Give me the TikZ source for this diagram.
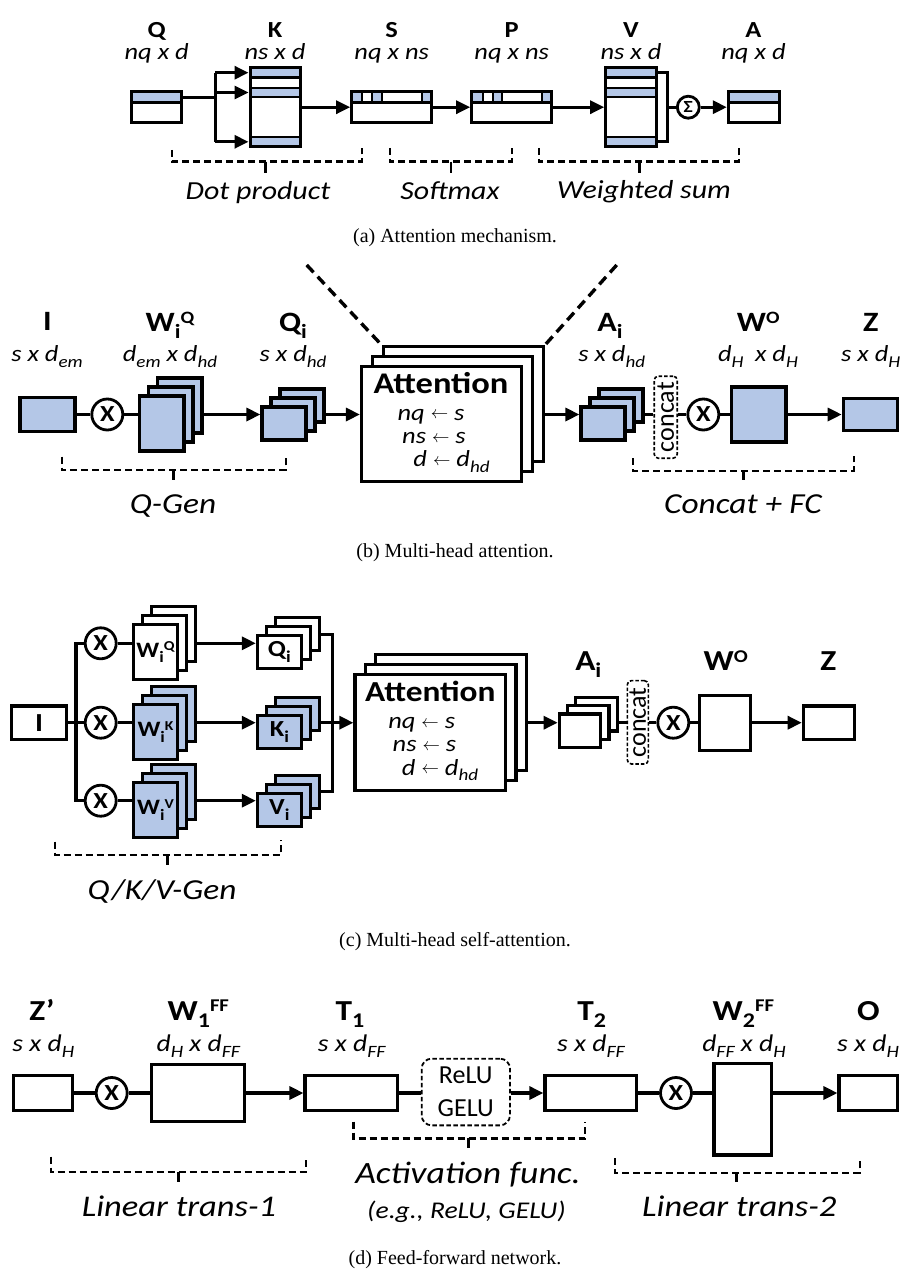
\documentclass[tikz,border=0pt]{standalone}
\usepackage{fontspec}
\usepackage{graphicx}
\setmainfont{Carlito}[BoldFeatures={FakeStretch=1.15},ItalicFeatures={FakeStretch=1.15}]
\newfontfamily\capfont{Liberation Serif}
\usetikzlibrary{arrows.meta}
\definecolor{lb}{RGB}{180,199,231}
\newcommand\fs[1]{\fontsize{#1}{#1}\selectfont}
\newcommand\lo[1]{\raisebox{-0.25em}{\scalebox{0.72}{#1}}}
\newcommand\hi[1]{\raisebox{0.3em}{\scalebox{0.62}{#1}}}
\newcommand\la{\raisebox{0.05em}{\scalebox{0.7}{$\leftarrow$}}}
\newcommand\stk[8]{%
 \node[bx,fill=#7,minimum width=#5pt,minimum height=#6pt] (#13) at ({#2+2*#4},{#3-2*#4}) {};
 \node[bx,fill=#7,minimum width=#5pt,minimum height=#6pt] (#12) at ({#2+#4},{#3-#4}) {};
 \node[bx,fill=#7,minimum width=#5pt,minimum height=#6pt] (#11) at (#2,#3) {#8};}
\tikzset{
 bx/.style={draw,line width=3.2pt,inner sep=0pt,rectangle},
 lnw/.style={line width=3.2pt},
 thin/.style={line width=2.6pt},
 arr/.style={line width=3.2pt,-{Triangle[length=14pt,width=13pt]}},
 mul/.style={draw,circle,fill=white,line width=2.8pt,minimum size=31pt,inner sep=0pt,font=\bfseries\fs{23}},
 brc/.style={line width=2.4pt,dash pattern=on 7pt off 4pt},
 tk/.style={line width=2.6pt},
 diag/.style={line width=3.4pt,dash pattern=on 10pt off 6pt},
 cat/.style={draw,fill=white,line width=1.6pt,dash pattern=on 3.5pt off 2pt,rounded corners=4pt,inner sep=0pt},
 ttl/.style={anchor=base,inner sep=0pt,font=\bfseries\fs{#1}},
 dm/.style={anchor=base,inner sep=0pt,font=\itshape\fs{#1}},
 capt/.style={anchor=base,inner sep=0pt,font=\capfont\fs{20}},
}
\begin{document}
\begin{tikzpicture}[x=1pt,y=-1pt]
\fill[white] (0,0) rectangle (909,1273);
\useasboundingbox (0,0) rectangle (909,1273);

%%%%%%%%%%%%%%%% (a)
% Q
\fill[lb] (131.7,91.7) rectangle (181.7,102.7);
\draw[thin] (131.7,102.7) -- (181.7,102.7);
\node[bx,line width=3pt,minimum width=50pt,minimum height=31pt] (aQ) at (156.7,107.2) {};
% K
\fill[lb] (250,67.7) rectangle (300,77.7);
\fill[lb] (250,88) rectangle (300,97);
\fill[lb] (250,137) rectangle (300,146.7);
\foreach \yy in {77.7,88,97,137} \draw[thin] (250,\yy) -- (300,\yy);
\node[bx,line width=3pt,minimum width=50pt,minimum height=79pt] (aK) at (275,107.2) {};
% S
\fill[lb] (351.7,91.7) rectangle (362,102.7);
\fill[lb] (372,91.7) rectangle (382,102.7);
\fill[lb] (422,91.7) rectangle (431.7,102.7);
\draw[thin] (351.7,102.7) -- (431.7,102.7);
\foreach \xx in {362,372,382,422} \draw[thin] (\xx,91.7) -- (\xx,102.7);
\node[bx,line width=3pt,minimum width=80pt,minimum height=31pt] (aS) at (391.7,107.2) {};
% P
\fill[lb] (471.7,91.7) rectangle (483,102.7);
\fill[lb] (493,91.7) rectangle (502,102.7);
\fill[lb] (542,91.7) rectangle (551.7,102.7);
\draw[thin] (471.7,102.7) -- (551.7,102.7);
\foreach \xx in {483,493,502,542} \draw[thin] (\xx,91.7) -- (\xx,102.7);
\node[bx,line width=3pt,minimum width=80pt,minimum height=31pt] (aP) at (511.7,107.2) {};
% V
\fill[lb] (605.7,67.7) rectangle (656,77.7);
\fill[lb] (605.7,88) rectangle (656,97);
\fill[lb] (605.7,137) rectangle (656,146.7);
\foreach \yy in {77.7,88,97,137} \draw[thin] (605.7,\yy) -- (656,\yy);
\node[bx,line width=3pt,minimum width=50.3pt,minimum height=79pt] (aV) at (630.85,107.2) {};
% A
\fill[lb] (728.3,91.7) rectangle (779.3,102.7);
\draw[thin] (728.3,102.7) -- (779.3,102.7);
\node[bx,line width=3pt,minimum width=51pt,minimum height=31pt] (aA) at (753.8,107.2) {};
\node[draw,circle,line width=2.8pt,minimum size=22pt,inner sep=0pt,font=\bfseries\fs{17}] (aSig) at (688.3,107.2) {Σ};
% connectors
\coordinate (aT) at (215,98);
\coordinate (aT1) at (215,72.7);
\coordinate (aT2) at (215,92.5);
\coordinate (aT3) at (215,141.8);
\draw[lnw,line width=3pt] (aQ.east |- aT) -- (aT);
\draw[lnw,line width=3pt] (aT1) -- (aT3);
\foreach \c in {aT1,aT2,aT3} \draw[arr,line width=3pt] (\c) -- (\c -| aK.west);
\draw[arr,line width=3pt] (aK) -- (aS);
\draw[arr,line width=3pt] (aS) -- (aP);
\draw[arr,line width=3pt] (aP) -- (aV);
\coordinate (aB1) at (667.7,72.7);
\coordinate (aB2) at (667.7,141.8);
\draw[lnw,line width=3pt] (aB1 -| aV.east) -- (aB1) -- (aB2) -- (aB2 -| aV.east);
\draw[lnw,line width=3pt] (aV.east -| aB1) -- (aSig);
\draw[arr,line width=3pt] (aSig) -- (aA);
% labels
\node[ttl=23] (laQ) at (156.7,37.5) {Q};
\node[dm=23] (daQ) at (156.7,60) {nq x d};
\node[ttl=23] (laK) at (275,37.5) {K};
\node[dm=23] (daK) at (275,60) {ns x d};
\node[ttl=23] (laS) at (391.7,37.5) {S};
\node[dm=23] (daS) at (391.7,60) {nq x ns};
\node[ttl=23] (laP) at (511.7,37.5) {P};
\node[dm=23] (daP) at (511.7,60) {nq x ns};
\node[ttl=23] (laV) at (631,37.5) {V};
\node[dm=23] (daV) at (631,60) {ns x d};
\node[ttl=23] (laA) at (753.5,37.5) {A};
\node[dm=23] (daA) at (753.5,60) {nq x d};
% braces
\draw[brc] (171.7,150) -- (171.7,161.7) -- (361.7,161.7) -- (361.7,148);
\draw[tk] (265.7,161.7) -- (265.7,173);
\node[dm=26] (gaDot) at (258,200) {Dot product};
\draw[brc] (390,148) -- (390,161.7) -- (511.7,161.7) -- (511.7,148);
\draw[tk] (451,161.7) -- (451,173);
\node[dm=26] (gaSm) at (450,200) {Softmax};
\draw[brc] (539,148) -- (539,161.7) -- (739,161.7) -- (739,148);
\draw[tk] (639.3,161.7) -- (639.3,173);
\node[dm=26] (gaWs) at (644,199) {Weighted sum};
\node[capt] (capA) at (455,243) {(a) Attention mechanism.};

%%%%%%%%%%%%%%%% (b)
\node[bx,fill=lb,minimum width=55pt,minimum height=33.3pt] (bI) at (47.5,414.5) {};
\node[mul] (bx1) at (107.3,414.5) {X};
\stk{bW}{161.7}{423.5}{9}{44.5}{55}{lb}{}
\stk{bQ}{284}{423.5}{9}{44}{33}{lb}{}
\node[bx,fill=white,minimum width=160pt,minimum height=115pt] (bAt3) at (463.3,404.2) {};
\node[bx,fill=white,minimum width=160pt,minimum height=115pt] (bAt2) at (452.5,414.2) {};
\node[bx,fill=white,minimum width=160pt,minimum height=115pt] (bAt1) at (441.5,424.2) {};
\node[anchor=base,inner sep=0pt,font=\bfseries\fs{30}] (bAtt) at (441,393.3) {Attention};
\node[dm=23] (bL1) at (431,420) {nq \la{} s};
\node[dm=23] (bL2) at (434,443.3) {ns \la{} s};
\node[dm=23] (bL3) at (451.5,466.6) {d \la{} d\lo{hd}};
\stk{bA}{603}{423.5}{9}{44}{33}{lb}{}
\node[cat,minimum width=23pt,minimum height=82pt] (bcat) at (665.7,417.2) {\rotatebox{90}{\fs{26}concat}};
\node[mul] (bx2) at (703.3,414.5) {X};
\node[bx,fill=lb,minimum width=54.3pt,minimum height=55pt] (bWO) at (758.8,414.5) {};
\node[bx,fill=lb,minimum width=54.4pt,minimum height=32.7pt] (bZ) at (870.5,414.5) {};
% connectors
\draw[lnw] (bI) -- (bx1);
\draw[lnw] (bx1) -- (bx1 -| bW1.west);
\draw[arr] (bW2 -| bW3.east) -- (bW2 -| bQ1.west);
\draw[arr] (bQ2 -| bQ3.east) -- (bQ2 -| bAt1.west);
\draw[arr] (bQ2 -| bAt3.east) -- (bQ2 -| bA1.west);
\draw[lnw] (bA2 -| bA3.east) -- (bA2 -| bcat.west);
\draw[lnw] (bA2 -| bcat.east) -- (bx2);
\draw[lnw] (bx2) -- (bWO);
\draw[arr] (bWO) -- (bZ);
\coordinate (bdl) at (306.7,265);
\coordinate (bdr) at (616.7,265);
\draw[diag] (bdl) -- (bAt3.north west);
\draw[diag] (bdr) -- (bAt3.north east);
% labels
\node[ttl=28] (lbI) at (47.5,330.7) {I};
\node[dm=23] (dbI) at (47,361.5) {s x d\lo{em}};
\node[ttl=28] (lbW) at (170,331.7) {W\lo{i}\hi{Q}};
\node[dm=23] (dbW) at (170,361.5) {d\lo{em} x d\lo{hd}};
\node[ttl=28] (lbQ) at (293,331.7) {Q\lo{i}};
\node[dm=23] (dbQ) at (293,361.5) {s x d\lo{hd}};
\node[ttl=28] (lbA) at (610,331.7) {A\lo{i}};
\node[dm=23] (dbA) at (611.7,361.5) {s x d\lo{hd}};
\node[ttl=28] (lbWO) at (758.3,331.7) {W\hi{O}};
\node[dm=23] (dbWO) at (758,361.5) {d\lo{H}\enspace x d\lo{H}};
\node[ttl=28] (lbZ) at (870.7,331.7) {Z};
\node[dm=23] (dbZ) at (870.7,361.5) {s x d\lo{H}};
% braces
\draw[brc] (61.7,456.7) -- (61.7,470) -- (285.7,470) -- (285.7,456);
\draw[tk] (173.3,470) -- (173.3,480);
\node[dm=29] (gbQ) at (173,513.3) {Q-Gen};
\draw[brc] (632.7,458.3) -- (632.7,470.7) -- (854,470.7) -- (854,456);
\draw[tk] (743.3,470.7) -- (743.3,480);
\node[dm=29] (gbC) at (743,513.3) {Concat + FC};
\node[capt] (capB) at (455,557) {(b) Multi-head attention.};

%%%%%%%%%%%%%%%% (c)
\node[bx,minimum width=55pt,minimum height=33.3pt,font=\bfseries\fs{26}] (cI) at (39.2,722.7) {I};
\node[mul] (cxq) at (100.7,643.3) {X};
\node[mul] (cxk) at (100.7,722.7) {X};
\node[mul] (cxv) at (100.7,800.7) {X};
\coordinate (ctq) at (76,643.3);
\coordinate (ctv) at (76,800.7);
\draw[lnw] (cxq.west) -- (ctq) -- (ctv) -- (cxv.west);
\draw[lnw] (cI) -- (cxk);
\stk{cWq}{155.5}{652.3}{9}{44.4}{55}{white}{\bfseries\fs{22}W\lo{i}\hi{Q}}
\stk{cWk}{155.5}{731.7}{9}{44.4}{55}{lb}{\bfseries\fs{22}W\lo{i}\hi{K}}
\stk{cWv}{155.5}{809.7}{9}{44.4}{55}{lb}{\bfseries\fs{22}W\lo{i}\hi{V}}
\stk{cQq}{279.4}{652.3}{9}{44}{33}{white}{\bfseries\fs{23}Q\lo{i}}
\stk{cQk}{279.4}{731.7}{9}{44}{33}{lb}{\bfseries\fs{23}K\lo{i}}
\stk{cQv}{279.4}{809.7}{9}{44}{33}{lb}{\bfseries\fs{23}V\lo{i}}
\foreach \r in {q,k,v}{
 \draw[lnw] (cx\r) -- (cx\r -| cW\r1.west);
 \draw[arr] (cW\r2 -| cW\r3.east) -- (cW\r2 -| cQ\r1.west);
}
\node[bx,fill=white,minimum width=150.7pt,minimum height=116.4pt] (cAt3) at (451,712.3) {};
\node[bx,fill=white,minimum width=150.7pt,minimum height=116.4pt] (cAt2) at (440.7,722.3) {};
\node[bx,fill=white,minimum width=150.7pt,minimum height=116.4pt] (cAt1) at (430.3,732.5) {};
\node[anchor=base,inner sep=0pt,font=\bfseries\fs{29}] (cAtt) at (430.3,701.7) {Attention};
\node[dm=23] (cL1) at (421.7,728.3) {nq \la{} s};
\node[dm=23] (cL2) at (424.5,751.7) {ns \la{} s};
\node[dm=23] (cL3) at (440,775) {d \la{} d\lo{hd}};
\coordinate (crq) at (332.7,634.3);
\coordinate (crv) at (332.7,791.7);
\draw[lnw] (cQq3.east) -- (crq) -- (crv) -- (cQv3.east);
\draw[arr] (cQk3.east |- cxk) -- (cxk -| cAt1.west);
\stk{cA}{580}{730.8}{8.3}{41.5}{33.7}{white}{}
\node[cat,minimum width=21pt,minimum height=83.3pt] (ccat) at (637.8,722.3) {\rotatebox{90}{\fs{26}concat}};
\node[mul] (cx2) at (673.3,722.7) {X};
\node[bx,minimum width=51.4pt,minimum height=55pt] (cWO) at (725,722.7) {};
\node[bx,minimum width=51pt,minimum height=33.3pt] (cZ) at (828.8,722.7) {};
\draw[arr] (cxk -| cAt3.east) -- (cxk -| cA1.west);
\draw[lnw] (cxk -| cA3.east) -- (cxk -| ccat.west);
\draw[lnw] (cxk -| ccat.east) -- (cx2);
\draw[lnw] (cx2) -- (cWO);
\draw[arr] (cWO) -- (cZ);
\node[ttl=29] (lcA) at (588.3,670.7) {A\lo{i}};
\node[ttl=29] (lcWO) at (725.7,670.7) {W\hi{O}};
\node[ttl=29] (lcZ) at (828.3,670.7) {Z};
\draw[brc] (55,841.7) -- (55,855) -- (281,855) -- (281,840);
\draw[tk] (167.5,855) -- (167.5,865);
\node[dm=29] (gcQ) at (162,899) {Q/K/V-Gen};
\node[capt] (capC) at (455,946) {(c) Multi-head self-attention.};

%%%%%%%%%%%%%%%% (d)
\node[bx,minimum width=59.4pt,minimum height=35.7pt] (dZ) at (43,1093) {};
\node[mul] (dx1) at (111.7,1093) {X};
\node[bx,minimum width=92.6pt,minimum height=57.7pt] (dW1) at (198,1093) {};
\node[bx,minimum width=92.3pt,minimum height=35.7pt] (dT1) at (351.2,1093) {};
\node[draw,line width=1.8pt,dash pattern=on 4.5pt off 2.5pt,rounded corners=10pt,minimum width=88.3pt,minimum height=66.7pt,inner sep=0pt,align=center,font=\fontsize{26}{33}\selectfont] (dAct) at (465.8,1092) {ReLU\\GELU};
\node[bx,minimum width=91.7pt,minimum height=35pt] (dT2) at (590.8,1093) {};
\node[mul] (dx2) at (676,1093) {X};
\node[bx,minimum width=57.7pt,minimum height=91.7pt] (dW2) at (742.8,1109.2) {};
\node[bx,minimum width=58.3pt,minimum height=35.7pt] (dO) at (868.2,1093) {};
\draw[lnw] (dZ) -- (dx1);
\draw[lnw] (dx1) -- (dW1);
\draw[arr] (dW1) -- (dT1);
\draw[lnw] (dT1) -- (dT1 -| dAct.west);
\draw[arr] (dT2 -| dAct.east) -- (dT2);
\draw[lnw] (dT2) -- (dx2);
\draw[lnw] (dx2) -- (dx2 -| dW2.west);
\draw[arr] (dx2 -| dW2.east) -- (dO);
\node[ttl=29] (ldZ) at (42,1020) {Z’};
\node[dm=24] (ddZ) at (43.3,1051.7) {s x d\lo{H}};
\node[ttl=29] (ldW1) at (198.3,1020) {W\lo{1}\hi{FF}};
\node[dm=24] (ddW1) at (198.3,1051.7) {d\lo{H} x d\lo{FF}};
\node[ttl=29] (ldT1) at (350,1020) {T\lo{1}};
\node[dm=24] (ddT1) at (351.7,1051.7) {s x d\lo{FF}};
\node[ttl=29] (ldT2) at (591.7,1020) {T\lo{2}};
\node[dm=24] (ddT2) at (591,1051.7) {s x d\lo{FF}};
\node[ttl=29] (ldW2) at (743.3,1020) {W\lo{2}\hi{FF}};
\node[dm=24] (ddW2) at (744,1051.7) {d\lo{FF} x d\lo{H}};
\node[ttl=29] (ldO) at (868.3,1020) {O};
\node[dm=24] (ddO) at (868,1051.7) {s x d\lo{H}};
\draw[brc] (50.7,1156.7) -- (50.7,1171.7) -- (305.7,1171.7) -- (305.7,1156.7);
\draw[tk] (178.3,1171.7) -- (178.3,1181.7);
\node[dm=30] (gdL1) at (179,1216.7) {Linear trans-1};
\draw[brc] (353.3,1121.7) -- (353.3,1138.3) -- (585,1138.3) -- (585,1121.7);
\draw[tk] (468.3,1138.3) -- (468.3,1148.3);
\node[dm=31] (gdAct) at (468,1183.3) {Activation func.};
\node[dm=24] (gdEg) at (466.5,1218) {(e.g., ReLU, GELU)};
\draw[brc] (615,1158) -- (615,1172.7) -- (860,1172.7) -- (860,1158);
\draw[tk] (736.7,1172.7) -- (736.7,1181.7);
\node[dm=30] (gdL2) at (739.3,1216.7) {Linear trans-2};
\node[capt] (capD) at (455,1264) {(d) Feed-forward network.};
\end{tikzpicture}
\end{document}
